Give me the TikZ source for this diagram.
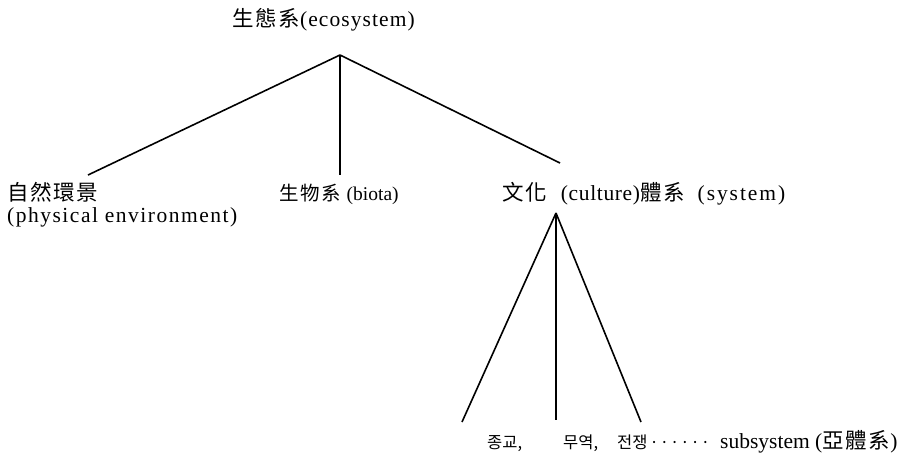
\documentclass[tikz,border=0pt]{standalone}
\usepackage{fontspec}
\setmainfont{Liberation Serif}
\newfontfamily\hanzi[LetterSpace=8]{Noto Sans CJK TC}
\newfontfamily\hangul{Noto Sans CJK KR}
\newcommand{\spaced}[2]{{\addfontfeatures{LetterSpace=#1}#2}}
\usepackage{tikz}
\usetikzlibrary{positioning}

\begin{document}
\begin{tikzpicture}[x=1pt, y=-1pt, font=\fontsize{21.5}{24}\selectfont]
  \useasboundingbox (0,0) rectangle (908,456);
  \tikzset{lab/.style={anchor=base west, inner sep=0pt},
           branch/.style={line width=1.6pt},
           kor/.style={lab, font=\fontsize{16.5}{20}\selectfont\hangul}}
  % --- ecosystem ---
  \node[lab] (eco) at (232,26) {{\hanzi 生態系}\spaced{5}{(ecosystem)}};
  \coordinate (ecoroot) at (340,55);
  % --- three parts ---
  \node[lab] (nat) at (7,200) {\hanzi 自然環景};
  \node[lab] (phys) at (7,222) {\spaced{7}{(physical environment)}};
  \coordinate (natend) at (88,175);
  \node[lab, font=\fontsize{19.5}{22}\selectfont] (bio) at (279,200) {{\hanzi 生物系}\hspace{0.3em}(biota)};
  \coordinate (bioend) at (340,175);
  \node[lab] (cul) at (502,200) {{\addfontfeatures{LetterSpace=18}\hanzi 文化}\hspace{0.65em}\spaced{3}{(culture)}{\hanzi 體系}\hspace{0.6em}\spaced{9}{(system)}};
  \coordinate (culend) at (560,163);
  \draw[branch] (ecoroot) -- (natend);
  \draw[branch] (ecoroot) -- (bioend);
  \draw[branch] (ecoroot) -- (culend);
  % --- subsystems ---
  \coordinate (culroot) at (556,213);
  \node[kor] (rel) at (487,448) {종교,};
  \node[kor] (trade) at (563,448) {무역,};
  \node[kor] (war) at (617,448)
    {전쟁\hspace{2pt}\foreach \d in {1,...,6}{\textperiodcentered\hspace{1pt}}};
  \node[lab] (sub) at (720,448) {subsystem ({\hanzi 亞體系})};
  \coordinate (relend) at (462,422);
  \coordinate (tradeend) at (556,420);
  \coordinate (warend) at (641,422);
  \draw[branch] (culroot) -- (relend);
  \draw[branch] (culroot) -- (tradeend);
  \draw[branch] (culroot) -- (warend);
\end{tikzpicture}
\end{document}
